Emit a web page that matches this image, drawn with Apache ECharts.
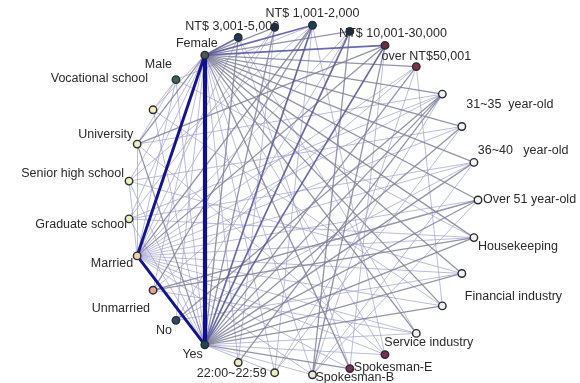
<!DOCTYPE html>
<html><head><meta charset="utf-8">
<script src="https://cdn.jsdelivr.net/npm/echarts@6/dist/echarts.min.js"></script>
<style>html,body{margin:0;padding:0;background:#fff}#c{width:580px;height:383px}</style>
</head><body><div id="c"></div>
<script>
// Nodes in circle order (clockwise, starting at the right-hand side)
const nodeNames = [
  'Over 51 year-old', 'Housekeeping', 'Financial industry', 'Manufacturing', 'Service industry',
  'Spokesman-A', 'Spokesman-E', 'Spokesman-B', '22:00~22:59', '23:00~23:59',
  'Yes', 'No', 'Unmarried', 'Married', 'Graduate school',
  'Senior high school', 'University', 'Vocational school', 'Male', 'Female',
  'NT$ 3,001-5,000', 'NT$ 5,001-10,000', 'NT$ 1,001-2,000', 'NT$ 30,001-50,000', 'NT$ 10,001-30,000',
  'over NT$50,001', '31~35  year-old', '36~40   year-old', '41~50 year-old'
];
const hiddenLabels = ['Manufacturing', 'Spokesman-A', '23:00~23:59', 'NT$ 5,001-10,000', 'NT$ 30,001-50,000', '41~50 year-old'];

// Tie strengths
const femaleLinks = {
  'Yes': 10, 'Married': 7, 'NT$ 10,001-30,000': 4, 'NT$ 3,001-5,000': 3, 'NT$ 1,001-2,000': 3,
  'NT$ 30,001-50,000': 2, 'NT$ 5,001-10,000': 2, 'over NT$50,001': 2, '31~35  year-old': 2,
  '36~40   year-old': 2, '41~50 year-old': 2, 'Over 51 year-old': 2, 'Housekeeping': 2,
  'Financial industry': 2, 'Manufacturing': 2, 'Service industry': 2, 'Spokesman-A': 1,
  'Spokesman-E': 2, 'Spokesman-B': 1, '22:00~22:59': 1, '23:00~23:59': 1, 'Vocational school': 1,
  'University': 2, 'Senior high school': 1, 'Graduate school': 1, 'No': 1, 'Unmarried': 1
};
const yesLinks = {
  'Married': 7, 'NT$ 10,001-30,000': 3, 'NT$ 1,001-2,000': 3, 'NT$ 30,001-50,000': 3,
  'NT$ 3,001-5,000': 2, 'NT$ 5,001-10,000': 2, 'over NT$50,001': 2, '31~35  year-old': 2,
  '36~40   year-old': 2, '41~50 year-old': 2, 'Over 51 year-old': 2, 'Housekeeping': 2,
  'Financial industry': 2, 'Manufacturing': 2, 'Service industry': 1, 'Spokesman-A': 1,
  'Spokesman-E': 2, 'Spokesman-B': 1, '22:00~22:59': 1, 'University': 2, 'Senior high school': 1,
  'Vocational school': 1, 'Graduate school': 1, 'Male': 1
};
const marriedLinks = {
  'NT$ 10,001-30,000': 2, 'NT$ 1,001-2,000': 2, 'NT$ 3,001-5,000': 1, 'NT$ 30,001-50,000': 1,
  'NT$ 5,001-10,000': 1, 'over NT$50,001': 1,
  '31~35  year-old': 1, '36~40   year-old': 1, '41~50 year-old': 1, 'Over 51 year-old': 1,
  'Housekeeping': 1, 'Financial industry': 1, 'Manufacturing': 1, 'Service industry': 1,
  'Spokesman-A': 1, 'Spokesman-E': 1, 'Spokesman-B': 1, 'University': 1, 'Senior high school': 1
};
const otherLinks = [
  ['Male', 'Vocational school', 1], ['Male', 'University', 1], ['Male', 'Married', 1],
  ['University', 'NT$ 10,001-30,000', 2], ['Senior high school', 'NT$ 1,001-2,000', 1],
  ['Graduate school', '31~35  year-old', 1], ['NT$ 1,001-2,000', 'Unmarried', 2],
  ['NT$ 30,001-50,000', 'No', 1], ['NT$ 10,001-30,000', 'Spokesman-B', 2],
  ['NT$ 10,001-30,000', 'Spokesman-E', 1], ['over NT$50,001', 'Manufacturing', 1],
  ['31~35  year-old', '23:00~23:59', 2], ['31~35  year-old', '22:00~22:59', 1],
  ['36~40   year-old', '22:00~22:59', 1], ['Over 51 year-old', 'Spokesman-B', 1],
  ['Financial industry', 'No', 1], ['Housekeeping', 'Unmarried', 2],
  ['NT$ 3,001-5,000', 'Spokesman-E', 1], ['41~50 year-old', 'Graduate school', 1],
  ['NT$ 1,001-2,000', 'Spokesman-A', 1], ['NT$ 1,001-2,000', '22:00~22:59', 1],
  ['NT$ 30,001-50,000', 'Spokesman-B', 2], ['NT$ 5,001-10,000', 'Graduate school', 1],
  ['NT$ 5,001-10,000', '23:00~23:59', 1], ['over NT$50,001', 'Unmarried', 1],
  ['over NT$50,001', 'Spokesman-B', 1], ['31~35  year-old', 'University', 1],
  ['31~35  year-old', 'No', 2], ['36~40   year-old', 'Senior high school', 1],
  ['41~50 year-old', 'No', 1], ['41~50 year-old', 'Spokesman-B', 1],
  ['Over 51 year-old', 'Unmarried', 2], ['Housekeeping', 'Graduate school', 1],
  ['Financial industry', 'Senior high school', 1], ['Manufacturing', 'Vocational school', 1],
  ['Service industry', 'Unmarried', 1], ['Service industry', 'NT$ 3,001-5,000', 1],
  ['Spokesman-A', 'University', 1], ['Male', 'NT$ 1,001-2,000', 1], ['Male', 'Housekeeping', 1]
];

// ---- styling (not data) ----
const nodeFill = {
  'Spokesman-A': '#7a2f4f', 'Spokesman-E': '#7a2f4f', 'Spokesman-B': '#ecebd6',
  '22:00~22:59': '#eeeec0', '23:00~23:59': '#eeeec0',
  'Yes': '#1f4a4c', 'No': '#2b4a60', 'Unmarried': '#e3a58c', 'Married': '#f5cdb0',
  'Graduate school': '#eef0b8', 'Senior high school': '#eef0b8', 'University': '#eef0b8',
  'Vocational school': '#eef0b8', 'Male': '#3d6a4d', 'Female': '#4a5a4a',
  'NT$ 3,001-5,000': '#1c3c52', 'NT$ 5,001-10,000': '#1c2c44', 'NT$ 1,001-2,000': '#1c4252',
  'NT$ 30,001-50,000': '#1c2c44', 'NT$ 10,001-30,000': '#6a2c42', 'over NT$50,001': '#7a3444'
};
const labelPlace = {
  'Over 51 year-old': ['left', 5, 0], 'Housekeeping': ['left', 4, 9],
  'Financial industry': ['left', 3, 23], 'Service industry': ['left', -32, 9],
  'Spokesman-E': ['left', 4, -1], 'Spokesman-B': ['left', 3, 3],
  '22:00~22:59': ['right', -8, 1], 'Yes': ['right', -2, 10], 'No': ['right', -4, 10],
  'Unmarried': ['right', -3, 18], 'Married': ['right', -4, 8],
  'Graduate school': ['right', -2, 6], 'Senior high school': ['right', -5, -8],
  'University': ['right', -4, -10], 'Vocational school': ['right', -5, -31],
  'Male': ['right', -4, -15], 'Female': ['center', -8, -12],
  'NT$ 3,001-5,000': ['center', -6, -11], 'NT$ 1,001-2,000': ['center', 0, -12],
  'NT$ 10,001-30,000': ['center', 8, -12], 'over NT$50,001': ['center', 10, -10],
  '31~35  year-old': ['left', 24, 10], '36~40   year-old': ['left', 16, 24]
};
function edgeStyle(w) {
  if (w >= 9) return { width: 4.2, color: '#10108a', opacity: 1 };
  if (w >= 6) return { width: 3, color: '#14148e', opacity: 1 };
  if (w >= 3) return { width: 1.7, color: '#5a5a9c', opacity: 0.9 };
  if (w >= 2) return { width: 1.3, color: '#80809a', opacity: 0.85 };
  return { width: 1, color: '#a4a4d2', opacity: 0.75 };
}

const nodes = nodeNames.map(function (name) {
  const lp = labelPlace[name];
  return {
    name: name,
    value: [1, name],
    itemStyle: { color: nodeFill[name] || '#f4f4f0', borderColor: '#2a2a3a', borderWidth: 1.4 },
    label: lp && hiddenLabels.indexOf(name) < 0 ? {
      show: true, position: ['50%', '50%'], offset: [lp[1], lp[2]],
      align: lp[0], verticalAlign: 'middle'
    } : { show: false }
  };
});
let linkList = [];
Object.keys(femaleLinks).forEach(function (t) { linkList.push(['Female', t, femaleLinks[t]]); });
Object.keys(yesLinks).forEach(function (t) { linkList.push(['Yes', t, yesLinks[t]]); });
Object.keys(marriedLinks).forEach(function (t) { linkList.push(['Married', t, marriedLinks[t]]); });
linkList = linkList.concat(otherLinks);
linkList.sort(function (a, b) { return a[2] - b[2]; });
const links = linkList.map(function (l) {
  return { source: l[0], target: l[1], value: l[2], lineStyle: edgeStyle(l[2]) };
});

const chart = echarts.init(document.getElementById('c'));
chart.setOption({
  backgroundColor: '#ffffff',
  animation: false,
  polar: { center: [303, 200], radius: 175 },
  angleAxis: { type: 'category', data: nodeNames, boundaryGap: false, startAngle: 0, clockwise: true, show: false },
  radiusAxis: { type: 'value', min: 0, max: 1, show: false },
  series: [{
    type: 'graph',
    coordinateSystem: 'polar',
    symbol: 'circle',
    symbolSize: 7.5,
    data: nodes,
    links: links,
    label: { fontFamily: 'Liberation Sans, Arial, sans-serif', fontSize: 12.5, color: '#2a2a2a' },
    lineStyle: { curveness: 0 },
    emphasis: { disabled: true }
  }]
});
</script></body></html>
